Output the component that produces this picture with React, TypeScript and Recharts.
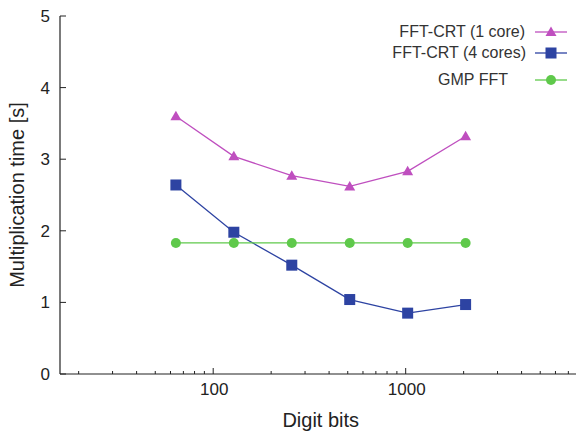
import React from 'react';
import { LineChart, Line, XAxis, YAxis } from 'recharts';

const digitBits = [64, 128, 256, 512, 1024, 2048];
const fftCrt1 = [3.6, 3.04, 2.77, 2.62, 2.83, 3.32];
const fftCrt4 = [2.64, 1.98, 1.52, 1.04, 0.85, 0.97];
const gmpFft = [1.83, 1.83, 1.83, 1.83, 1.83, 1.83];

const xTicks = [20, 30, 40, 50, 60, 70, 80, 90, 100, 200, 300, 400, 500, 600, 700, 800, 900, 1000, 2000, 3000, 4000, 5000, 6000, 7000, 8000];
const xLabels = [100, 1000];
const yTicks = [0, 1, 2, 3, 4, 5];

const MAGENTA = '#bf4fbf';
const BLUE = '#2d43a2';
const GREEN = '#5fc94b';
const FONT = '"Liberation Sans", Arial, Helvetica, sans-serif';

const data = digitBits.map((x, i) => ({ x, a: fftCrt1[i], b: fftCrt4[i], c: gmpFft[i] }));

const Tri = ({ cx, cy, color }: any) => (
  <polygon points={`${cx},${cy - 5.5} ${cx - 5.5},${cy + 4} ${cx + 5.5},${cy + 4}`} fill={color} />
);
const Sq = ({ cx, cy, color }: any) => <rect x={cx - 5.5} y={cy - 5.5} width={11} height={11} fill={color} />;
const Circ = ({ cx, cy, color }: any) => <circle cx={cx} cy={cy} r={5} fill={color} />;

const BottomTick = ({ x, y, payload }: any) => {
  const v = payload.value;
  const major = xLabels.includes(v);
  return (
    <g>
      <line x1={x} x2={x} y1={y} y2={y - (major ? 6 : 3)} stroke="#222" strokeWidth={1} />
      {major && (
        <text x={x + 1} y={y + 21} textAnchor="middle" fontSize={17} fill="#222" fontFamily={FONT}>
          {v}
        </text>
      )}
    </g>
  );
};
const TopTick = ({ x, y, payload }: any) => {
  const v = payload.value;
  const major = xLabels.includes(v);
  return <line x1={x} x2={x} y1={y} y2={y + (major ? 6 : 3)} stroke="#222" strokeWidth={1} />;
};
const LeftTick = ({ x, y, payload }: any) => (
  <g>
    <line x1={x} x2={x + 6} y1={y} y2={y} stroke="#222" strokeWidth={1} />
    <text x={x - 10} y={y + 6} textAnchor="end" fontSize={17} fill="#222" fontFamily={FONT}>
      {payload.value}
    </text>
  </g>
);
const RightTick = ({ x, y }: any) => <line x1={x} x2={x - 6} y1={y} y2={y} stroke="#222" strokeWidth={1} />;

const legendItems = [
  { name: 'FFT-CRT (1 core)', color: MAGENTA, shape: 'tri', right: 51, top: 31.5 },
  { name: 'FFT-CRT (4 cores)', color: BLUE, shape: 'sq', right: 50, top: 52.5 },
  { name: 'GMP FFT', color: GREEN, shape: 'circ', right: 68, top: 80 },
];

export default function App() {
  return (
    <div style={{ position: 'fixed', left: 0, top: 0, width: 576, height: 433, overflow: 'hidden', background: '#fff' }}>
      <LineChart width={600} height={433} data={data} margin={{ top: 16, right: 18.5, bottom: 0, left: 0 }}>
        <XAxis
          xAxisId="bottom"
          dataKey="x"
          type="number"
          scale="log"
          domain={[16, 8192]}
          ticks={xTicks}
          interval={0}
          height={59}
          tickSize={0}
          tickMargin={0}
          tickLine={false}
          tick={<BottomTick />}
          axisLine={{ stroke: '#222', strokeWidth: 1.2 }}
          allowDataOverflow
          label={{ value: 'Digit bits', position: 'insideBottom', offset: 6, fontSize: 20, fill: '#222', fontFamily: FONT }}
        />
        <XAxis
          xAxisId="top"
          orientation="top"
          dataKey="x"
          type="number"
          scale="log"
          domain={[16, 8192]}
          ticks={xTicks}
          interval={0}
          height={0}
          tickSize={0}
          tickMargin={0}
          tickLine={false}
          tick={<TopTick />}
          axisLine={{ stroke: '#222', strokeWidth: 1.2 }}
          allowDataOverflow
        />
        <YAxis
          yAxisId="left"
          type="number"
          domain={[0, 5]}
          ticks={yTicks}
          interval={0}
          width={60}
          tickSize={0}
          tickMargin={0}
          tickLine={false}
          tick={<LeftTick />}
          axisLine={{ stroke: '#222', strokeWidth: 1.2 }}
          label={{
            content: ({ viewBox }: any) => (
              <text
                x={24}
                y={viewBox.y + viewBox.height / 2}
                transform={`rotate(-90, 24, ${viewBox.y + viewBox.height / 2})`}
                textAnchor="middle"
                fontSize={20}
                fill="#222"
                fontFamily={FONT}
              >
                Multiplication time [s]
              </text>
            ),
          }}
        />
        <YAxis
          yAxisId="right"
          orientation="right"
          type="number"
          domain={[0, 5]}
          ticks={yTicks}
          interval={0}
          width={0}
          tickSize={0}
          tickMargin={0}
          tickLine={false}
          tick={<RightTick />}
          axisLine={{ stroke: '#222', strokeWidth: 1.2 }}
        />
        <Line
          xAxisId="bottom"
          yAxisId="left"
          type="linear"
          dataKey="a"
          stroke={MAGENTA}
          strokeWidth={1.3}
          dot={(p: any) => <Tri key={p.index} cx={p.cx} cy={p.cy} color={MAGENTA} />}
          isAnimationActive={false}
        />
        <Line
          xAxisId="bottom"
          yAxisId="left"
          type="linear"
          dataKey="b"
          stroke={BLUE}
          strokeWidth={1.3}
          dot={(p: any) => <Sq key={p.index} cx={p.cx} cy={p.cy} color={BLUE} />}
          isAnimationActive={false}
        />
        <Line
          xAxisId="bottom"
          yAxisId="left"
          type="linear"
          dataKey="c"
          stroke={GREEN}
          strokeWidth={1.3}
          dot={(p: any) => <Circ key={p.index} cx={p.cx} cy={p.cy} color={GREEN} />}
          isAnimationActive={false}
        />
      </LineChart>
      {legendItems.map((it) => (
        <div key={it.name} style={{ position: 'absolute', left: 0, top: it.top - 10, width: 576, height: 20 }}>
          <div
            style={{
              position: 'absolute',
              right: it.right,
              top: 0,
              height: 20,
              lineHeight: '20px',
              fontSize: 16,
              color: '#333',
              fontFamily: FONT,
              whiteSpace: 'nowrap',
            }}
          >
            {it.name}
          </div>
          <svg style={{ position: 'absolute', left: 533, top: 0 }} width={36} height={20}>
            <line x1={2} x2={34} y1={10} y2={10} stroke={it.color} strokeWidth={1.3} />
            {it.shape === 'tri' && <Tri cx={18} cy={10} color={it.color} />}
            {it.shape === 'sq' && <Sq cx={18} cy={10} color={it.color} />}
            {it.shape === 'circ' && <Circ cx={18} cy={10} color={it.color} />}
          </svg>
        </div>
      ))}
    </div>
  );
}
